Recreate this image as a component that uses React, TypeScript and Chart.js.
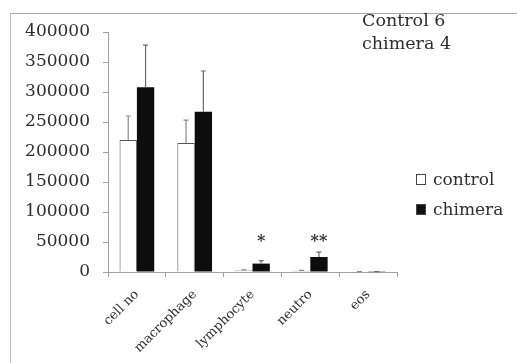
import React, { useEffect, useRef } from "react";
import { Chart, registerables } from "chart.js";

Chart.register(...registerables);

const categories = ["cell no", "macrophage", "lymphocyte", "neutro", "eos"];
const controlValues = [220000, 215000, 2500, 2000, 300];
const controlErrors = [40000, 38000, 1000, 800, 200];
const chimeraValues = [308000, 267000, 14000, 25000, 400];
const chimeraErrors = [70000, 68000, 5000, 8000, 200];
const significance = ["", "", "*", "**", ""];
const yTicks = [0, 50000, 100000, 150000, 200000, 250000, 300000, 350000, 400000];
const noteLines = ["Control 6", "chimera 4"];
const legendLabels = ["control", "chimera"];

const SERIF = "'DejaVu Serif', 'Liberation Serif', serif";
const TEXT = "#2e2e2e";
const STAR_LEVEL = 55000;

const errorBarPlugin = {
  id: "errorBars",
  afterDatasetsDraw(chart: any) {
    const ctx = chart.ctx;
    const y = chart.scales.y;
    const errs = [controlErrors, chimeraErrors];
    chart.data.datasets.forEach((ds: any, di: number) => {
      const meta = chart.getDatasetMeta(di);
      meta.data.forEach((bar: any, i: number) => {
        const v = ds.data[i];
        const e = errs[di][i];
        if (!e) return;
        const yTop = y.getPixelForValue(v + e);
        const yBase = y.getPixelForValue(v);
        ctx.save();
        ctx.strokeStyle = di === 0 ? "#8a8a8a" : "#6a6a6a";
        ctx.lineWidth = 1.2;
        ctx.beginPath();
        ctx.moveTo(bar.x, yBase);
        ctx.lineTo(bar.x, yTop);
        ctx.moveTo(bar.x - 2.5, yTop);
        ctx.lineTo(bar.x + 2.5, yTop);
        ctx.stroke();
        ctx.restore();
      });
    });
    const meta1 = chart.getDatasetMeta(1);
    ctx.save();
    ctx.fillStyle = "#333";
    ctx.font = `bold 16px ${SERIF}`;
    ctx.textAlign = "center";
    ctx.textBaseline = "middle";
    significance.forEach((s, i) => {
      if (!s) return;
      const bar = meta1.data[i];
      ctx.fillText(s, bar.x, y.getPixelForValue(STAR_LEVEL) + 3);
    });
    ctx.restore();
  },
};

export default function App() {
  const ref = useRef<HTMLCanvasElement>(null);
  useEffect(() => {
    if (!ref.current) return;
    const chart = new Chart(ref.current, {
      type: "bar",
      data: {
        labels: categories,
        datasets: [
          {
            label: legendLabels[0],
            data: controlValues,
            backgroundColor: "#ffffff",
            borderColor: "#555555",
            borderWidth: 1,
          },
          {
            label: legendLabels[1],
            data: chimeraValues,
            backgroundColor: "#0d0d0d",
            borderColor: "#0d0d0d",
            borderWidth: 0,
          },
        ],
      },
      options: {
        animation: false,
        responsive: false,
        maintainAspectRatio: false,
        layout: { padding: { left: 0, right: 120, top: 32, bottom: 0 } },
        plugins: { legend: { display: false }, tooltip: { enabled: false } },
        datasets: { bar: { categoryPercentage: 0.6, barPercentage: 1.0 } },
        scales: {
          x: {
            afterFit: (s: any) => { s.height = 91; },
            grid: { drawOnChartArea: false, offset: true, tickLength: 5, color: "#a0a0a0" },
            border: { color: "#a0a0a0" },
            ticks: {
              minRotation: 45,
              maxRotation: 45,
              padding: 10,
              color: TEXT,
              font: { family: SERIF, size: 13 },
            },
          },
          y: {
            min: 0,
            max: 400000,
            afterFit: (s: any) => { s.width = 108; },
            afterBuildTicks: (s: any) => { s.ticks = yTicks.map((v) => ({ value: v })); },
            grid: { drawOnChartArea: false, tickLength: 5, color: "#a0a0a0" },
            border: { color: "#a0a0a0" },
            ticks: {
              padding: 13,
              color: TEXT,
              font: { family: SERIF, size: 17 },
              callback: (v: any) => String(v),
            },
          },
        },
      },
      plugins: [errorBarPlugin],
    });
    return () => chart.destroy();
  }, []);

  return (
    <div style={{ position: "fixed", left: 0, top: 0, width: 517, height: 363, background: "#fff" }}>
      <div
        style={{
          position: "absolute",
          left: 10,
          top: 13,
          right: 0,
          bottom: 0,
          borderTop: "1.5px solid #aaa",
          borderLeft: "1.5px solid #bbb",
        }}
      />
      <canvas ref={ref} width={517} height={363} style={{ position: "absolute", left: 0, top: 0 }} />
      <div
        style={{
          position: "absolute",
          left: 362,
          top: 9,
          fontFamily: SERIF,
          fontSize: 17.5,
          lineHeight: "23px",
          color: TEXT,
        }}
      >
        {noteLines.map((l) => (
          <div key={l}>{l}</div>
        ))}
      </div>
      <div style={{ position: "absolute", left: 416, top: 164, fontFamily: SERIF, fontSize: 17, color: TEXT, lineHeight: "30px" }}>
        {legendLabels.map((l, i) => (
          <div key={l} style={{ display: "flex", alignItems: "center" }}>
            <span
              style={{
                display: "inline-block",
                width: 10,
                height: 11,
                marginRight: 7,
                boxSizing: "border-box",
                border: "1px solid #444",
                background: i === 0 ? "#fff" : "#111",
              }}
            />
            <span>{l}</span>
          </div>
        ))}
      </div>
    </div>
  );
}
